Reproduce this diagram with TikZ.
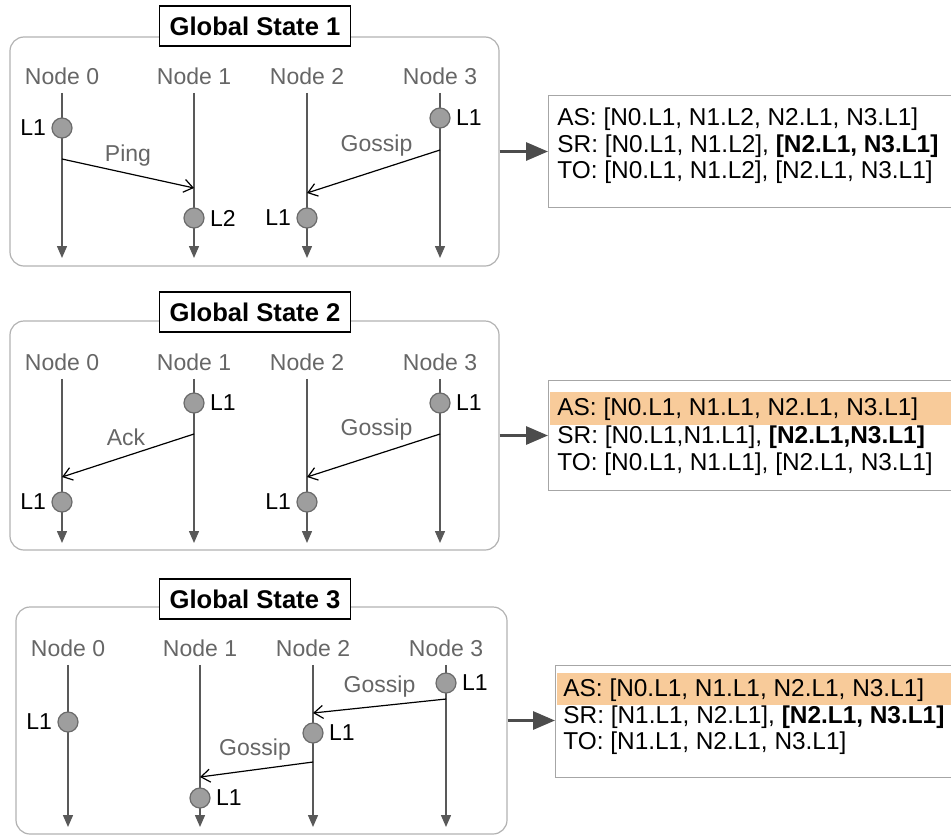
\documentclass[tikz,border=0pt]{standalone}
\usepackage{fontspec}
\setmainfont{Liberation Sans}
\usetikzlibrary{arrows.meta}
\definecolor{hlOrange}{RGB}{248,203,154}

\tikzset{
  panel/.style={draw=black!30, line width=0.6pt, rounded corners=7pt},
  title/.style={draw, fill=white, line width=0.8pt, minimum height=20pt, inner xsep=5pt,
    font=\bfseries\fontsize{12.8}{15}\selectfont},
  proc/.style={text=black!60, inner ysep=4pt, inner xsep=0pt, font=\fontsize{11.5}{14}\selectfont},
  life/.style={draw=black!65, line width=0.7pt, -{Triangle[length=6pt,width=5pt]}},
  ev/.style={circle, draw=black!58, fill=black!38, line width=0.6pt, minimum size=10pt, inner sep=0pt},
  evlbl/.style={inner sep=2.5pt, font=\fontsize{11.5}{13}\selectfont},
  msg/.style={line width=0.6pt, -{Straight Barb[length=4.5pt,width=6.5pt]}},
  msglbl/.style={text=black!60, font=\fontsize{11.5}{14}\selectfont},
  res/.style={draw=black!35, line width=0.7pt, inner sep=0pt, anchor=north west},
  resline/.style={anchor=west, inner sep=0pt, font=\fontsize{12.2}{14}\selectfont},
  feed/.style={draw=black!70, line width=1.5pt, -{Triangle[length=11pt,width=9pt]}},
}

\begin{document}
\begin{tikzpicture}[x=0.5pt, y=-0.5pt]
    \useasboundingbox (0,0) rectangle (951,835);
    \clip (0,0) rectangle (951,835);

    % Global State 1
    \node[panel, minimum width=244.5pt, minimum height=114.5pt] (g1) at (254.5,151.5) {};
    \foreach \i/\x in {0/62, 1/194, 2/307, 3/440} {
        \node[proc] (a\i) at (\x,76) {Node \i};
        \coordinate (a\i end) at (\x,258);
        \draw[life] (a\i) -- (a\i end);
    }
    \coordinate (ping0) at (62,159);
    \coordinate (ping1) at (194,188);
    \coordinate (gsa3) at (440,150);
    \coordinate (gsa2) at (307,193);
    \draw[msg] (ping0) -- (ping1) node[msglbl, midway, yshift=9pt] {Ping};
    \draw[msg] (gsa3) -- (gsa2) node[msglbl, midway, xshift=1.5pt, yshift=13pt] {Gossip};
    \node[ev, label={[evlbl]left:L1}] (e1a) at (62,128) {};
    \node[ev, label={[evlbl]right:L1}] (e1b) at (440,118) {};
    \node[ev, label={[evlbl]right:L2}] (e1c) at (194,218) {};
    \node[ev, label={[evlbl]left:L1}] (e1d) at (307,218) {};
    \node[title] (t1) at (255,26) {Global State 1};

    \node[res, minimum width=206pt, minimum height=56pt] (r1) at (548,95) {};
    \node[resline] (r1as) at (557,119) {AS: [N0.L1, N1.L2, N2.L1, N3.L1]};
    \node[resline] (r1sr) at (557,146) {SR: [N0.L1, N1.L2], \textbf{[N2.L1, N3.L1]}};
    \node[resline] (r1to) at (557,172) {TO: [N0.L1, N1.L2], [N2.L1, N3.L1]};
    \draw[feed] (g1.east) -- (g1.east -| r1.west);

    % Global State 2
    \node[panel, minimum width=244.5pt, minimum height=114.5pt] (g2) at (254.5,435.5) {};
    \foreach \i/\x in {0/62, 1/194, 2/307, 3/440} {
        \node[proc] (b\i) at (\x,362) {Node \i};
        \coordinate (b\i end) at (\x,543);
        \draw[life] (b\i) -- (b\i end);
    }
    \coordinate (ack1) at (194,434);
    \coordinate (ack0) at (62,477);
    \coordinate (gsb3) at (440,434);
    \coordinate (gsb2) at (307,477);
    \draw[msg] (ack1) -- (ack0) node[msglbl, midway, xshift=-1pt, yshift=9.25pt] {Ack};
    \draw[msg] (gsb3) -- (gsb2) node[msglbl, midway, xshift=1.5pt, yshift=12.75pt] {Gossip};
    \node[ev, label={[evlbl]right:L1}] (e2a) at (194,403) {};
    \node[ev, label={[evlbl]right:L1}] (e2b) at (440,403) {};
    \node[ev, label={[evlbl]left:L1}] (e2c) at (62,502) {};
    \node[ev, label={[evlbl]left:L1}] (e2d) at (307,502) {};
    \node[title] (t2) at (255,312) {Global State 2};

    \node[res, minimum width=206pt, minimum height=55pt] (r2) at (548,380) {};
    \fill[hlOrange] (549.5,392) rectangle (960,425);
    \node[resline] (r2as) at (557,409) {AS: [N0.L1, N1.L1, N2.L1, N3.L1]};
    \node[resline] (r2sr) at (557,437) {SR: [N0.L1,N1.L1], \textbf{[N2.L1,N3.L1]}};
    \node[resline] (r2to) at (557,464) {TO: [N0.L1, N1.L1], [N2.L1, N3.L1]};
    \draw[feed] (g2.east) -- (g2.east -| r2.west);

    % Global State 3
    \node[panel, minimum width=245.5pt, minimum height=113.5pt] (g3) at (261.5,720.5) {};
    \foreach \i/\x in {0/68, 1/200, 2/313, 3/446} {
        \node[proc] (c\i) at (\x,648) {Node \i};
        \coordinate (c\i end) at (\x,827);
        \draw[life] (c\i) -- (c\i end);
    }
    \coordinate (gsc3) at (446,699);
    \coordinate (gsc2) at (313,713);
    \coordinate (gsd2) at (313,762);
    \coordinate (gsd1) at (200,777);
    \draw[msg] (gsc3) -- (gsc2) node[msglbl, midway, yshift=9.5pt] {Gossip};
    \draw[msg] (gsd2) -- (gsd1) node[msglbl, midway, xshift=-0.75pt, yshift=9.75pt] {Gossip};
    \node[ev, label={[evlbl]left:L1}] (e3a) at (68,722) {};
    \node[ev, label={[evlbl]right:L1}] (e3b) at (446,683) {};
    \node[ev, label={[evlbl]right:L1}] (e3c) at (313,733) {};
    \node[ev, label={[evlbl]right:L1}] (e3d) at (200,798) {};
    \node[title] (t3) at (255,599) {Global State 3};

    \node[res, minimum width=203pt, minimum height=56pt] (r3) at (555,665) {};
    \fill[hlOrange] (556.5,673) rectangle (960,705);
    \node[resline] (r3as) at (563,690) {AS: [N0.L1, N1.L1, N2.L1, N3.L1]};
    \node[resline] (r3sr) at (563,717) {SR: [N1.L1, N2.L1], \textbf{[N2.L1, N3.L1]}};
    \node[resline] (r3to) at (563,743) {TO: [N1.L1, N2.L1, N3.L1]};
    \draw[feed] (g3.east) -- (g3.east -| r3.west);
\end{tikzpicture}
\end{document}
